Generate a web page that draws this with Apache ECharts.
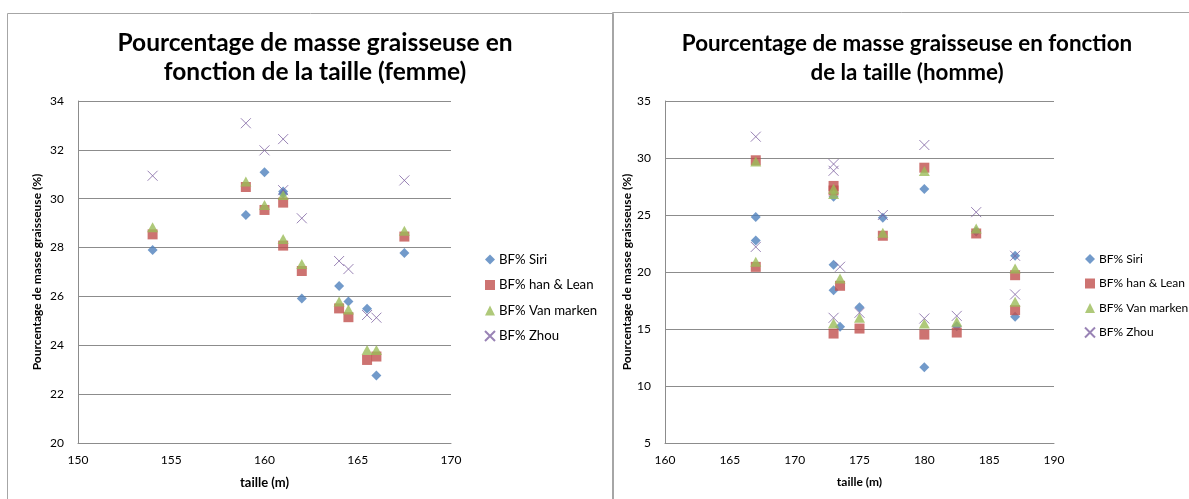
<!DOCTYPE html>
<html>
<head>
<meta charset="utf-8">
<title>Pourcentage de masse graisseuse en fonction de la taille</title>
<script src="https://cdn.jsdelivr.net/npm/echarts@6/dist/echarts.min.js"></script>
<style>
  html, body { margin: 0; padding: 0; background: #ffffff; }
  #chart { width: 1189px; height: 499px; }
</style>
</head>
<body>
<div id="chart"></div>
<script>
// Femmes : taille et pourcentage de masse grasse selon quatre formules
const femmeTaille = [154, 159, 160, 161, 161, 162, 164, 164.5, 165.5, 166, 167.5];
const femmeSiri   = [27.9, 29.33, 31.08, 30.3, 30.2, 25.92, 26.43, 25.79, 25.5, 22.76, 27.78];
const femmeHan    = [28.54, 30.48, 29.54, 29.84, 28.08, 27.04, 25.51, 25.15, 23.4, 23.54, 28.45];
const femmeVan    = [28.83, 30.7, 29.74, 30.15, 28.35, 27.33, 25.79, 25.47, 23.81, 23.81, 28.69];
const femmeZhou   = [30.94, 33.09, 31.98, 32.44, 30.35, 29.2, 27.45, 27.12, 25.24, 25.13, 30.75];

// Hommes
const hommeTaille = [167, 167, 173, 173, 173, 173.5, 175, 176.8, 180, 180, 182.5, 184, 187, 187];
const hommeSiri   = [24.82, 22.77, 20.63, 18.41, 26.6, 15.19, 16.91, 24.76, 27.27, 11.65, 15.25, 23.55, 21.42, 16.07];
const hommeHan    = [29.8, 20.45, 27.55, 27.15, 14.6, 18.79, 15.04, 23.18, 29.15, 14.51, 14.69, 23.38, 19.72, 16.65];
const hommeVan    = [29.7, 20.9, 27.3, 26.85, 15.5, 19.43, 15.98, 23.44, 28.85, 15.48, 15.63, 23.82, 20.31, 17.38];
const hommeZhou   = [31.87, 22.2, 29.47, 28.88, 15.98, 20.46, 16.42, 25.0, 31.14, 15.92, 16.15, 25.25, 21.42, 18.03];

const seriesNames = ['BF% Siri', 'BF% han & Lean', 'BF% Van marken', 'BF% Zhou'];
const titreFemme = 'Pourcentage de masse graisseuse en\nfonction de la taille (femme)';
const titreHomme = 'Pourcentage de masse graisseuse en fonction\nde la taille (homme)';
const nomAxeX = 'taille (m)';
const nomAxeY = 'Pourcentage de masse graisseuse (%)';

const FONT = 'Lato, "Noto Sans", sans-serif';
const GRID_COLOR = '#8c8c8c';
const FRAME_COLOR = '#a6a6a6';

const markerStyles = [
  { symbol: 'diamond', symbolSize: [10, 10], itemStyle: { color: '#4f81bd' } },
  { symbol: 'rect', symbolSize: [10, 10], itemStyle: { color: '#c0504d' } },
  { symbol: 'triangle', symbolSize: [11, 10], itemStyle: { color: '#9bbb59' } },
  { symbol: 'path://M0,0L10,10M0,10L10,0', symbolSize: [10, 10],
    itemStyle: { color: 'rgba(0,0,0,0)', borderColor: '#8064a2', borderWidth: 1 } }
];

function pairs(xs, ys) { return xs.map((x, i) => [x, ys[i]]); }

function makeSeries(idx, xs, lists) {
  return lists.map((ys, k) => Object.assign({
    type: 'scatter',
    name: seriesNames[k],
    xAxisIndex: idx,
    yAxisIndex: idx,
    data: pairs(xs, ys),
    emphasis: { disabled: true },
    animation: false
  }, markerStyles[k]));
}

function xAxis(idx, min, max, interval, nameSize) {
  return {
    type: 'value', gridIndex: idx, min: min, max: max, interval: interval,
    name: nomAxeX, nameLocation: 'middle', nameGap: 33,
    nameTextStyle: { fontFamily: FONT, fontWeight: 'bold', fontSize: nameSize, color: '#000' },
    axisLine: { show: true, lineStyle: { color: GRID_COLOR, width: 1 } },
    axisTick: { show: false },
    axisLabel: { fontFamily: FONT, fontSize: 12, color: '#000', margin: 11 },
    splitLine: { show: false }
  };
}

function yAxis(idx, min, max, interval, gap) {
  return {
    type: 'value', gridIndex: idx, min: min, max: max, interval: interval,
    name: nomAxeY, nameLocation: 'middle', nameRotate: 90, nameGap: gap,
    nameTextStyle: { fontFamily: FONT, fontWeight: 'bold', fontSize: 12, color: '#000' },
    axisLine: { show: true, lineStyle: { color: GRID_COLOR, width: 1 } },
    axisTick: { show: false },
    axisLabel: { fontFamily: FONT, fontSize: 12, color: '#000', margin: 14 },
    splitLine: { show: true, lineStyle: { color: GRID_COLOR, width: 1 } }
  };
}

function legend(left, top, size) {
  return {
    orient: 'vertical', left: left, top: top,
    itemWidth: 10, itemHeight: 10, itemGap: 12.5,
    selectedMode: false,
    data: seriesNames,
    textStyle: { fontFamily: FONT, fontSize: size, color: '#000', padding: [0, 0, 0, -1] }
  };
}

const chart = echarts.init(document.getElementById('chart'), null, { renderer: 'canvas' });

chart.setOption({
  backgroundColor: '#ffffff',
  animation: false,
  graphic: [
    { type: 'rect', shape: { x: 7.5, y: 13.5, width: 606, height: 600 },
      style: { fill: 'none', stroke: FRAME_COLOR, lineWidth: 1 }, silent: true },
    { type: 'rect', shape: { x: 612.5, y: 12.5, width: 620, height: 600 },
      style: { fill: 'none', stroke: FRAME_COLOR, lineWidth: 1 }, silent: true }
  ],
  title: [
    { text: titreFemme, left: 310, top: 24, textAlign: 'center',
      textStyle: { fontFamily: FONT, fontWeight: 'bold', fontSize: 24.5, lineHeight: 29, color: '#000' } },
    { text: titreHomme, left: 902, top: 24, textAlign: 'center',
      textStyle: { fontFamily: FONT, fontWeight: 'bold', fontSize: 22.4, lineHeight: 29, color: '#000' } }
  ],
  legend: [legend(479, 248, 13.2), legend(1079, 248, 12)],
  grid: [
    { left: 78, top: 101, width: 373, height: 342 },
    { left: 665, top: 101, width: 389, height: 342 }
  ],
  xAxis: [xAxis(0, 150, 170, 5, 13), xAxis(1, 160, 190, 5, 12)],
  yAxis: [yAxis(0, 20, 34, 2, 35), yAxis(1, 5, 35, 5, 30)],
  series: []
    .concat(makeSeries(0, femmeTaille, [femmeSiri, femmeHan, femmeVan, femmeZhou]))
    .concat(makeSeries(1, hommeTaille, [hommeSiri, hommeHan, hommeVan, hommeZhou]))
});
</script>
</body>
</html>
